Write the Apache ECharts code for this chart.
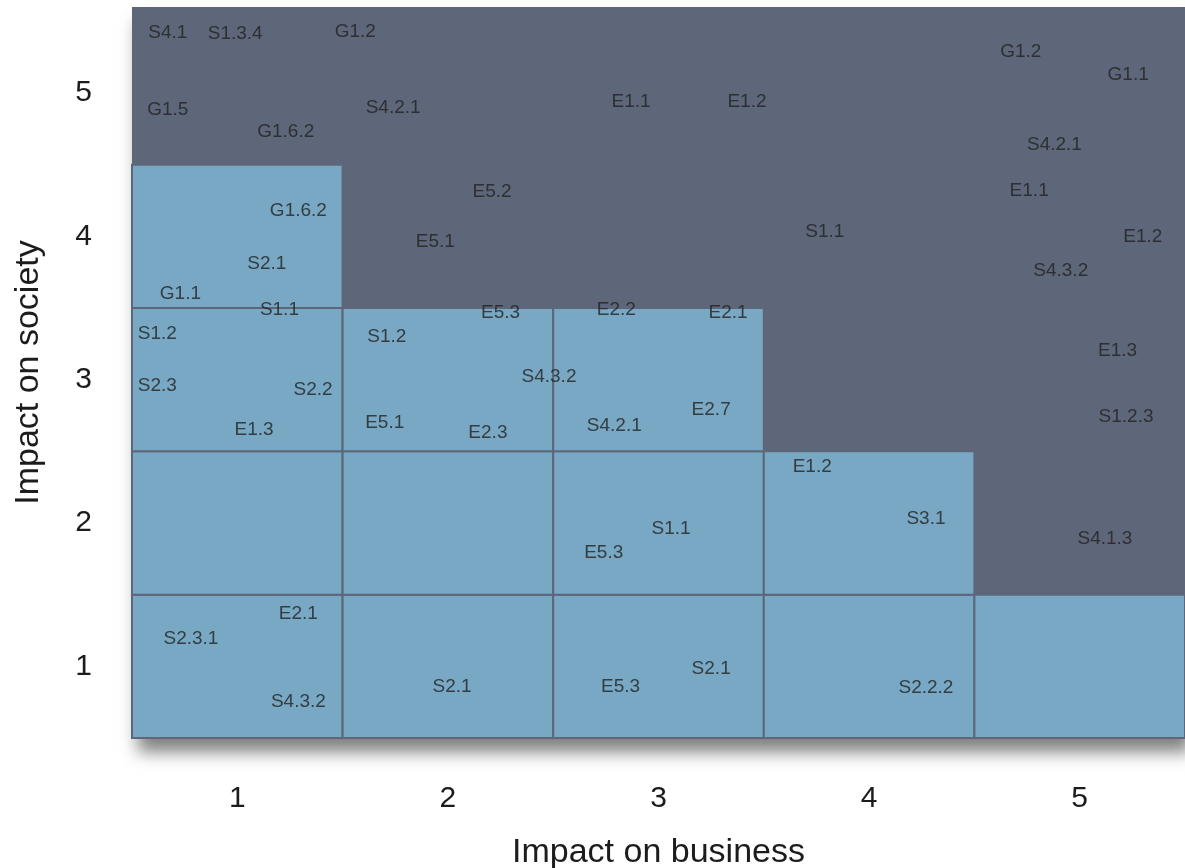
<!DOCTYPE html>
<html lang="en">

<head>
  <meta charset="UTF-8">
  <title>Materiality matrix</title>
  <style>
    html, body { margin: 0; padding: 0; background: #fff; }
    #chart { width: 1185px; height: 868px; }
  </style>
</head>

<body>
  <div id="chart"></div>
  <script src="https://cdn.jsdelivr.net/npm/echarts@6/dist/echarts.min.js"></script>
  <script>
    // axis levels
    const businessLevels = [1, 2, 3, 4, 5]
    const societyLevels = [1, 2, 3, 4, 5]

    // how many cells (from the bottom) are in the light zone, per business column
    const lightRowsPerColumn = [4, 3, 3, 2, 1]

    // topics: code, business score, society score
    const topicNames = [
      'S4.1', 'S1.3.4', 'G1.2', 'G1.5', 'S4.2.1', 'G1.6.2', 'E1.1', 'E1.2',
      'G1.2', 'G1.1', 'S4.2.1', 'E1.1', 'E1.2', 'S4.3.2', 'S1.1', 'E5.2',
      'E5.1', 'G1.6.2', 'S2.1', 'G1.1', 'S1.1', 'S1.2', 'S2.3', 'S2.2',
      'E1.3', 'S1.2', 'E5.3', 'S4.3.2', 'E5.1', 'E2.3', 'E2.2', 'E2.1',
      'S4.2.1', 'E2.7', 'E1.3', 'S1.2.3', 'E1.2', 'S3.1', 'S4.1.3', 'S1.1',
      'E5.3', 'E2.1', 'S2.3.1', 'S4.3.2', 'S2.1', 'E5.3', 'S2.1', 'S2.2.2'
    ]
    const topicBusiness = [
      0.67, 0.99, 1.56, 0.67, 1.74, 1.23, 2.87, 3.42,
      4.72, 5.23, 4.88, 4.76, 5.30, 4.91, 3.79, 2.21,
      1.94, 1.29, 1.14, 0.73, 1.20, 0.62, 0.62, 1.36,
      1.08, 1.71, 2.25, 2.48, 1.70, 2.19, 2.80, 3.33,
      2.79, 3.25, 5.18, 5.22, 3.73, 4.27, 5.12, 3.06,
      2.74, 1.29, 0.78, 1.29, 2.02, 2.82, 3.25, 4.27
    ]
    const topicSociety = [
      5.42, 5.41, 5.43, 4.88, 4.90, 4.73, 4.94, 4.94,
      5.29, 5.13, 4.64, 4.32, 4.00, 3.76, 4.03, 4.31,
      3.96, 4.18, 3.81, 3.60, 3.49, 3.32, 2.96, 2.93,
      2.65, 3.30, 3.47, 3.02, 2.70, 2.63, 3.49, 3.47,
      2.68, 2.79, 3.20, 2.74, 2.39, 2.03, 1.89, 1.96,
      1.79, 1.37, 1.19, 0.75, 0.86, 0.86, 0.98, 0.85
    ]

    const darkColor = '#5d6779'
    const lightColor = '#78a8c3'
    const textColor = '#1c1c1c'
    const font = 'Liberation Sans, Helvetica, Arial, sans-serif'

    // [business, society, 1 = light zone / 0 = dark zone]
    const cells = []
    businessLevels.forEach((b, i) => {
      societyLevels.forEach((s, j) => {
        cells.push([b, s, j < lightRowsPerColumn[i] ? 1 : 0])
      })
    })

    const topics = topicNames.map((name, i) => ({
      name,
      value: [topicBusiness[i], topicSociety[i]]
    }))

    const chart = echarts.init(document.getElementById('chart'))

    const option = {
      animation: false,
      textStyle: { fontFamily: font },
      grid: {
        left: 132,
        right: 0,
        top: 7,
        bottom: 130,
        containLabel: false,
        outerBoundsMode: 'none',
        show: true,
        // dark zone is the grid background
        backgroundColor: darkColor,
        borderWidth: 0,
        shadowColor: 'rgba(0, 0, 0, 0.5)',
        shadowBlur: 16,
        shadowOffsetX: 6,
        shadowOffsetY: 14
      },
      xAxis: {
        type: 'value',
        min: 0.5,
        max: 5.5,
        name: 'Impact on business',
        nameLocation: 'middle',
        nameGap: 98,
        nameTextStyle: { fontSize: 34, color: textColor, fontFamily: font },
        axisLine: { show: false },
        axisTick: { show: false },
        splitLine: { show: false },
        axisLabel: {
          customValues: businessLevels,
          fontSize: 30,
          color: textColor,
          margin: 46,
          fontFamily: font
        }
      },
      yAxis: {
        type: 'value',
        min: 0.5,
        max: 5.6,
        name: 'Impact on society',
        nameLocation: 'middle',
        nameGap: 86,
        nameRotate: 90,
        nameTextStyle: { fontSize: 34, color: textColor, fontFamily: font },
        axisLine: { show: false },
        axisTick: { show: false },
        splitLine: { show: false },
        axisLabel: {
          customValues: societyLevels,
          fontSize: 30,
          color: textColor,
          margin: 40,
          fontFamily: font
        }
      },
      series: [{
        type: 'custom',
        data: cells,
        encode: { x: 0, y: 1 },
        silent: true,
        renderItem: (params, api) => {
          if (api.value(2) !== 1) return null
          const x = api.value(0)
          const y = api.value(1)
          const p0 = api.coord([x - 0.5, y + 0.5])
          const p1 = api.coord([x + 0.5, y - 0.5])
          return {
            type: 'rect',
            shape: { x: p0[0], y: p0[1], width: p1[0] - p0[0], height: p1[1] - p0[1] },
            style: { fill: lightColor, stroke: darkColor, lineWidth: 2 }
          }
        }
      }, {
        type: 'scatter',
        symbolSize: 1,
        itemStyle: { color: 'transparent' },
        data: topics,
        label: {
          show: true,
          position: 'inside',
          formatter: p => p.name,
          fontSize: 19,
          color: '#222222',
          fontFamily: font
        },
        emphasis: { disabled: true }
      }]
    }

    chart.setOption(option)
  </script>
</body>

</html>
